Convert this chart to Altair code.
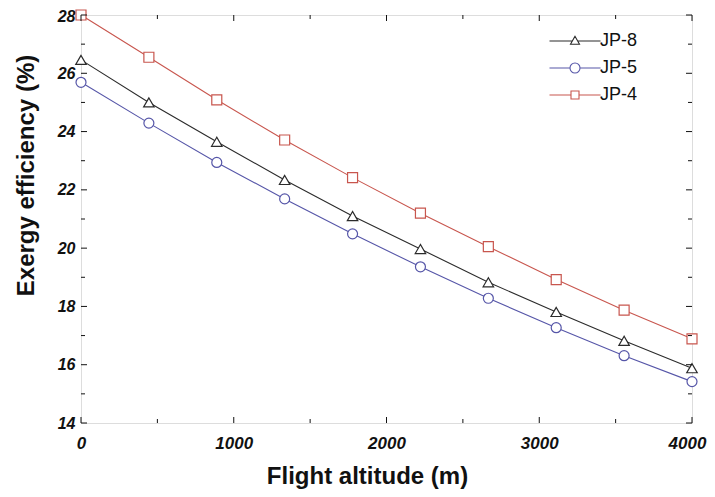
import altair as alt
import pandas as pd

# ---- data ----
altitude = [0, 444.4, 888.9, 1333.3, 1777.8, 2222.2, 2666.7, 3111.1, 3555.6, 4000]
jp8 = [26.46, 25.00, 23.65, 22.34, 21.10, 19.97, 18.83, 17.81, 16.82, 15.88]
jp5 = [25.69, 24.29, 22.94, 21.69, 20.49, 19.36, 18.28, 17.27, 16.31, 15.42]
jp4 = [28.00, 26.55, 25.09, 23.71, 22.42, 21.20, 20.05, 18.92, 17.87, 16.89]

series_names = ["JP-8", "JP-5", "JP-4"]
series_colors = ["#2b2b2b", "#5656a8", "#c8564e"]
series_shapes = ["triangle-up", "circle", "square"]
# legend glyphs: line with a marker in the middle (units of sqrt(size)/2 px)
legend_glyphs = [
    "M-5.1,0H-0.55M0.55,0H5.1M0,-0.95L-0.9,0.65L0.9,0.65Z",
    "M-5.1,0H-1M1,0H5.1M1,0A1,1 0 1,1 -1,0A1,1 0 1,1 1,0Z",
    "M-5.1,0H-0.8M0.8,0H5.1M-0.8,-0.8H0.8V0.8H-0.8Z",
]

x_major = [0, 1000, 2000, 3000, 4000]
x_minor = [500, 1500, 2500, 3500]
y_major = [14, 16, 18, 20, 22, 24, 26, 28]
y_minor = [15, 17, 19, 21, 23, 25, 27]

W, H = 611, 408

rows = []
for name, vals in zip(series_names, [jp8, jp5, jp4]):
    for a, v in zip(altitude, vals):
        rows.append({"alt": a, "eff": v, "series": name})
df = pd.DataFrame(rows)

xscale = alt.Scale(domain=[0, 4000], nice=False, zero=False)
yscale = alt.Scale(domain=[14, 28], nice=False, zero=False)
cscale = alt.Scale(domain=series_names, range=series_colors)

label_font = "Liberation Sans"
title_font = "Liberation Sans"

x_axis = alt.Axis(
    values=x_major, format="d", ticks=False, tickSize=0, domain=False, grid=False,
    labelFont=label_font, labelFontSize=17, labelFontWeight="bold",
    labelFontStyle="italic", labelColor="#111", labelPadding=12,
    labelFlush=False, labelOverlap=False,
    labelOffset={"condition": {"test": "datum.value === 4000", "value": -5}, "value": 0},
    title="Flight altitude (m)", titleFont=title_font, titleFontSize=24,
    titleFontWeight="bold", titleColor="#111", titleX=286, titleY=60,
    titleBaseline="alphabetic", titleAlign="center", titleAnchor="middle",
)
y_axis = alt.Axis(
    values=y_major, format="d", ticks=False, tickSize=0, domain=False, grid=False,
    labelFont=label_font, labelFontSize=16, labelFontWeight="bold",
    labelFontStyle="italic", labelColor="#111", labelPadding=6,
    labelFlush=False, labelOverlap=False,
    labelOffset={"condition": {"test": "datum.value === 28", "value": 1}, "value": 0},
    title="Exergy efficiency (%)", titleFont=title_font, titleFontSize=24,
    titleFontWeight="bold", titleColor="#111", titleX=-48, titleY=160,
    titleAngle=-90, titleBaseline="alphabetic", titleAlign="center",
)

base = alt.Chart(df)

series_layers = []
for i, (name, shp, col) in enumerate(zip(series_names, series_shapes, series_colors)):
    sub = base.transform_filter(alt.datum.series == name)
    if i == 0:
        enc = dict(x=alt.X("alt:Q", scale=xscale, axis=x_axis),
                   y=alt.Y("eff:Q", scale=yscale, axis=y_axis))
    else:
        enc = dict(x=alt.X("alt:Q", scale=xscale), y=alt.Y("eff:Q", scale=yscale))
    series_layers.append(sub.mark_line(strokeWidth=1.1, color=col).encode(**enc))
    series_layers.append(
        sub.mark_point(shape=shp, size=110 if shp == "triangle-up" else 100,
                       fill="white", stroke=col, filled=False, strokeWidth=1.2,
                       opacity=1, fillOpacity=1)
        .encode(x=alt.X("alt:Q", scale=xscale), y=alt.Y("eff:Q", scale=yscale))
    )

leg = alt.Legend(
    title=None, orient="none", legendX=485, legendY=17, padding=0,
    labelFont=title_font, labelFontSize=18, labelColor="#111",
    labelOffset=16, rowPadding=9, symbolStrokeWidth=1.1, symbolSize=100,
    symbolOpacity=1,
)
legend_layer = base.mark_point(opacity=0, filled=False).encode(
    x=alt.X("alt:Q", scale=xscale),
    y=alt.Y("eff:Q", scale=yscale),
    color=alt.Color("series:N", scale=cscale, legend=leg),
    shape=alt.Shape("series:N", scale=alt.Scale(domain=series_names, range=legend_glyphs), legend=leg),
)

tick_len_major, tick_len_minor = 6, 4

def xticks(vals, ln):
    d = pd.DataFrame({"v": vals})
    bot = alt.Chart(d).mark_rule(color="#111", strokeWidth=1).encode(
        x=alt.X("v:Q", scale=xscale), y=alt.value(H), y2=alt.value(H - ln))
    top = alt.Chart(d).mark_rule(color="#111", strokeWidth=1).encode(
        x=alt.X("v:Q", scale=xscale), y=alt.value(0), y2=alt.value(ln))
    return [bot, top]

def yticks(vals, ln):
    d = pd.DataFrame({"v": vals})
    left = alt.Chart(d).mark_rule(color="#111", strokeWidth=1).encode(
        y=alt.Y("v:Q", scale=yscale), x=alt.value(0), x2=alt.value(ln))
    right = alt.Chart(d).mark_rule(color="#111", strokeWidth=1).encode(
        y=alt.Y("v:Q", scale=yscale), x=alt.value(W), x2=alt.value(W - ln))
    return [left, right]

tick_layers = (xticks(x_major, tick_len_major) + xticks(x_minor, tick_len_minor)
               + yticks(y_major, tick_len_major) + yticks(y_minor, tick_len_minor))

chart = alt.layer(*series_layers, *tick_layers, legend_layer).properties(
    width=W, height=H,
    autosize=alt.AutoSizeParams(type="none"),
    padding={"left": 73, "top": 7, "right": 15, "bottom": 66},
).configure_view(stroke="#111", strokeWidth=2).configure(background="white")

chart.save("out.html", embed_options={"renderer": "svg", "actions": False})
